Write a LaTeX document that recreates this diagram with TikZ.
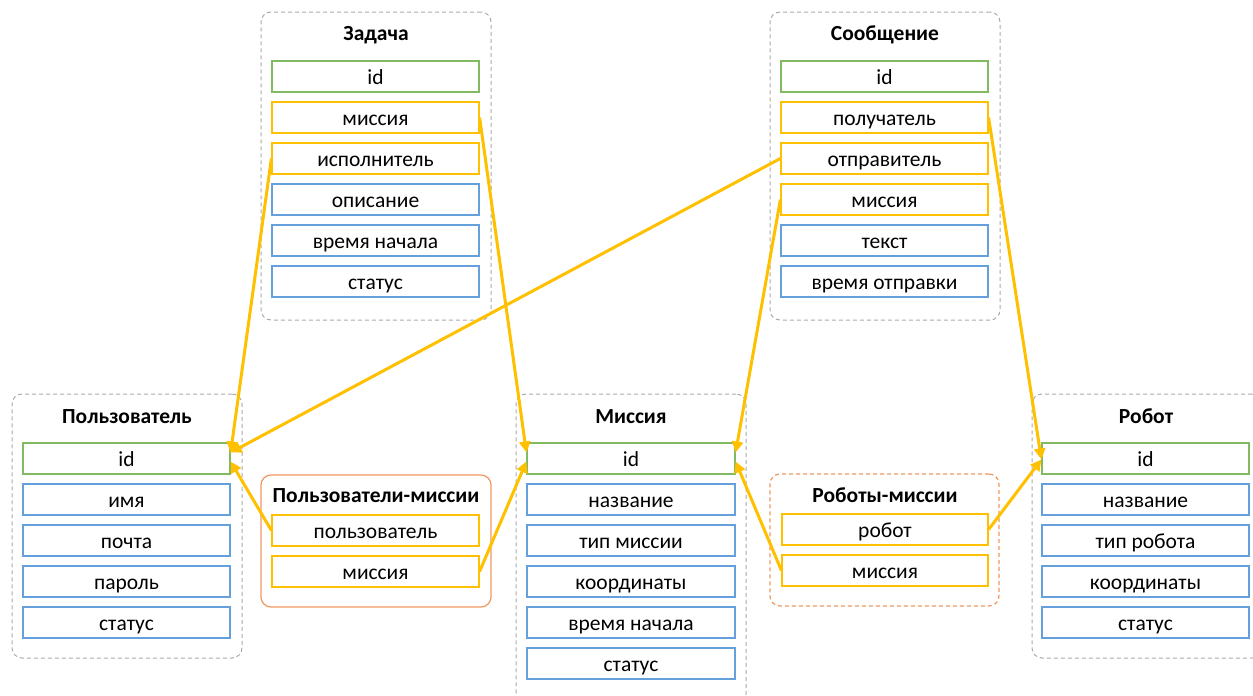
\documentclass[tikz,border=0pt]{standalone}
\usepackage{fontspec}
\setmainfont{Carlito}
\usetikzlibrary{arrows.meta}
\definecolor{fgreen}{RGB}{130,186,98}
\definecolor{fyellow}{RGB}{255,192,0}
\definecolor{fblue}{RGB}{100,160,220}
\definecolor{cgray}{RGB}{170,170,170}
\definecolor{corange}{RGB}{241,150,95}
\definecolor{arr}{RGB}{255,192,0}
\tikzset{
  container/.style={draw=cgray, dashed, dash pattern=on 4pt off 3pt, rounded corners=10pt, line width=1pt, inner sep=0pt},
  field/.style={draw, line width=1.2pt, minimum width=207pt, minimum height=31pt, inner sep=0pt, text height=18pt, text depth=2pt, font=\fontsize{21.5}{23}\selectfont},
  pk/.style={field, draw=fgreen},
  fk/.style={field, draw=fyellow},
  plain/.style={field, draw=fblue},
  title/.style={font=\bfseries\fontsize{21.5}{23}\selectfont, inner sep=0pt},
  link/.style={draw=arr, line width=3pt, -{Triangle[length=11pt,width=11pt]}},
}
\begin{document}
\begin{tikzpicture}[x=1pt,y=-1pt]
\useasboundingbox (0,0) rectangle (1253,696);
\begin{scope}
\clip (0,0) rectangle (1253,696);
% containers
\node[container, minimum width=230pt, minimum height=308pt] (zadC) at (376,166) {};
\node[container, minimum width=230pt, minimum height=308pt] (msgC) at (885,166) {};
\node[container, minimum width=230pt, minimum height=264pt] (usrC) at (127,526) {};
\node[container, minimum width=230pt, minimum height=310pt] (misC) at (631,549) {};
\node[container, minimum width=230pt, minimum height=264pt] (robC) at (1147,526) {};
\node[draw=corange, line width=1.2pt, rounded corners=10pt, minimum width=230pt, minimum height=132pt, inner sep=0pt] (umC) at (376,541) {};
\node[container, draw=corange, line width=1.2pt, minimum width=229pt, minimum height=132pt] (rmC) at (884.5,540) {};
\end{scope}
% titles
\node[title] (zadT) at (376,35) {Задача};
\node[title] (msgT) at (885,35) {Сообщение};
\node[title] (usrT) at (127,417) {Пользователь};
\node[title] (misT) at (631,417) {Миссия};
\node[title] (robT) at (1146,416) {Робот};
\node[title] (umT) at (376,496) {Пользователи-миссии};
\node[title] (rmT) at (885,495) {Роботы-миссии};
% Задача
\node[pk] (zad-id) at (375.5,76.5) {id};
\node[fk] (zad-mis) at (375.5,117.5) {миссия};
\node[fk] (zad-isp) at (375.5,158.5) {исполнитель};
\node[plain] (zad-opis) at (375.5,199.5) {описание};
\node[plain] (zad-vr) at (375.5,240.5) {время начала};
\node[plain] (zad-st) at (375.5,281.5) {статус};
% Сообщение
\node[pk] (msg-id) at (884.5,76.5) {id};
\node[fk] (msg-pol) at (884.5,117.5) {получатель};
\node[fk] (msg-otp) at (884.5,158.5) {отправитель};
\node[fk] (msg-mis) at (884.5,199.5) {миссия};
\node[plain] (msg-txt) at (884.5,240.5) {текст};
\node[plain] (msg-vr) at (884.5,281.5) {время отправки};
% Пользователь
\node[pk] (usr-id) at (126.5,458.5) {id};
\node[plain] (usr-name) at (126.5,499.5) {имя};
\node[plain] (usr-mail) at (126.5,540.5) {почта};
\node[plain] (usr-pw) at (126.5,581.5) {пароль};
\node[plain] (usr-st) at (126.5,622.5) {статус};
% Миссия
\node[pk, minimum width=208pt] (mis-id) at (631,458.5) {id};
\node[plain, minimum width=208pt] (mis-name) at (631,499.5) {название};
\node[plain, minimum width=208pt] (mis-type) at (631,540.5) {тип миссии};
\node[plain, minimum width=208pt] (mis-coord) at (631,581.5) {координаты};
\node[plain, minimum width=208pt] (mis-vr) at (631,622.5) {время начала};
\node[plain, minimum width=208pt] (mis-st) at (631,663.5) {статус};
% Робот
\node[pk] (rob-id) at (1145.5,458.5) {id};
\node[plain] (rob-name) at (1145.5,499.5) {название};
\node[plain] (rob-type) at (1145.5,540.5) {тип робота};
\node[plain] (rob-coord) at (1145.5,581.5) {координаты};
\node[plain] (rob-st) at (1145.5,622.5) {статус};
% Пользователи-миссии
\node[fk] (um-usr) at (375.5,530.5) {пользователь};
\node[fk] (um-mis) at (375.5,571.5) {миссия};
% Роботы-миссии
\node[fk, minimum width=206pt] (rm-rob) at (885,529.5) {робот};
\node[fk, minimum width=206pt] (rm-mis) at (885,570.5) {миссия};
% links
\draw[link] (zad-isp.west) -- ([yshift=6pt]usr-id.east);
\draw[link] (msg-otp.west) -- ([yshift=6pt]usr-id.east);
\draw[link] (um-usr.west) -- ([yshift=-3pt]usr-id.east);
\draw[link] (zad-mis.east) -- ([yshift=6pt]mis-id.west);
\draw[link] (um-mis.east) -- ([yshift=-3pt]mis-id.west);
\draw[link] (msg-mis.west) -- ([yshift=6pt]mis-id.east);
\draw[link] (rm-mis.west) -- ([yshift=-3pt]mis-id.east);
\draw[link] (msg-pol.east) -- ([yshift=-1pt]rob-id.west);
\draw[link] (rm-rob.east) -- ([yshift=-1pt]rob-id.west);
\end{tikzpicture}
\end{document}
